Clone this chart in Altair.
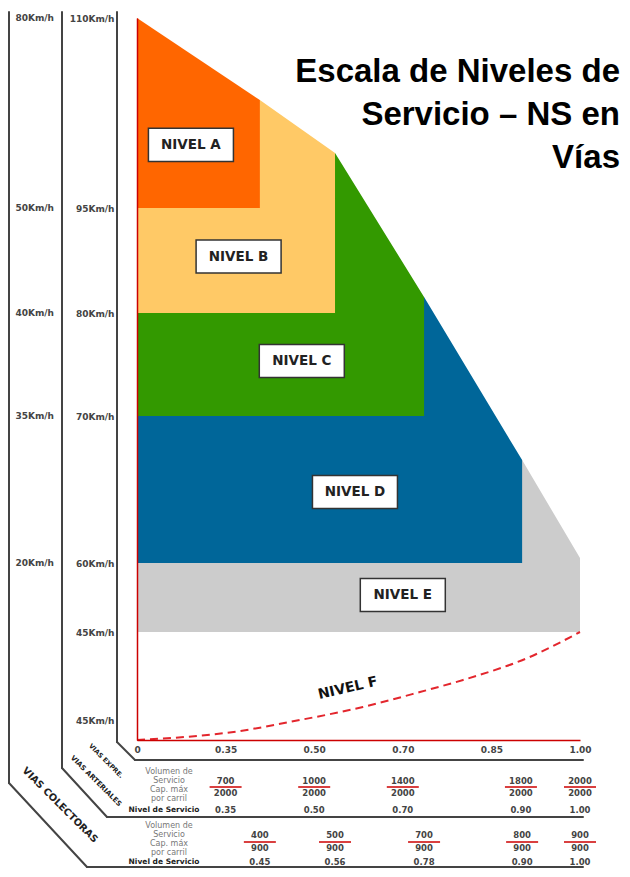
import json
import altair as alt
import pandas as pd

# ---------------- data ----------------
vc_ticks = [0, 0.35, 0.50, 0.70, 0.85, 1.00]
tick_labels = ["0", "0.35", "0.50", "0.70", "0.85", "1.00"]

speed_pos = [0, 1, 2, 3, 4, 5, 6]
speed_expresas = ["110Km/h", "95Km/h", "80Km/h", "70Km/h", "60Km/h", "45Km/h", "45Km/h"]
speed_pos_col = [0, 1, 2, 3, 4]
speed_colectoras = ["80Km/h", "50Km/h", "40Km/h", "35Km/h", "20Km/h"]

levels = ["A", "B", "C", "D", "E"]
level_bottom = [1, 2, 3, 4, 5]
env_x = [0, 0.408, 0.547, 0.736, 0.902, 1.00]
env_y = [0, 0.432, 0.71, 1.848, 3.30, 3.966]
level_colors = ["#FF6600", "#FFC966", "#339900", "#006699", "#CCCCCC"]
label_x = [0.213, 0.372, 0.479, 0.592, 0.70]
label_y = [0.668, 1.462, 2.466, 3.517, 4.464]

f_x = [0, 0.237, 0.35, 0.476, 0.61, 0.729, 0.802, 0.915, 1.0]
f_y = [7, 6.8, 6.65, 6.0, 5.852, 5.682, 5.545, 5.284, 5.0]
f_label = ("NIVEL F", 0.576, 5.64)

art_x = [0.35, 0.50, 0.70, 0.90, 1.00]
art_vol = [700, 1000, 1400, 1800, 2000]
art_cap = [2000, 2000, 2000, 2000, 2000]
art_ns = ["0.35", "0.50", "0.70", "0.90", "1.00"]

col_x = [0.408, 0.547, 0.736, 0.902, 1.00]
col_vol = [400, 500, 700, 800, 900]
col_cap = [900, 900, 900, 900, 900]
col_ns = ["0.45", "0.56", "0.78", "0.90", "1.00"]

title_lines = ["Escala de Niveles de", "Servicio \u2013 NS en", "V\u00edas"]
row_labels = ["Volumen de", "Servicio", "Cap. m\u00e1x", "por carril", "Nivel de Servicio"]
road_labels = ["VIAS EXPRE.", "VIAS ARTERIALES", "VIAS COLECTORAS"]

# ---------------- layout ----------------
W, H = 443, 722
FONT = "DejaVu Sans"
xscale = alt.Scale(domain=vc_ticks, range=[i * W / 5 for i in range(6)], nice=False, zero=False)
yscale = alt.Scale(domain=[0, 1, 2, 3, 4, 5, 6, 7],
                   range=[0, 190, 295, 398, 545, 614, 702, 722], nice=False, zero=False)

xaxis = alt.Axis(values=vc_ticks,
                 labelExpr=f"{json.dumps(tick_labels)}[indexof({json.dumps(vc_ticks)}, datum.value)]",
                 title=None, ticks=False, tickSize=0, grid=False, zindex=1,
                 domainColor="#CC0000", domainWidth=1.5,
                 labelFont=FONT, labelFontWeight="bold", labelFontSize=9, labelColor="#444",
                 labelPadding=5, labelFlush=False, labelOverlap=False)
yaxis = alt.Axis(values=speed_pos,
                 labelExpr=f"{json.dumps(speed_expresas)}[datum.value]",
                 title=None, ticks=False, tickSize=0, grid=False, zindex=1,
                 domainColor="#CC0000", domainWidth=1.5,
                 labelFont=FONT, labelFontWeight="bold", labelFontSize=9, labelColor="#444",
                 labelPadding=23, labelAlign="right", labelBaseline="middle",
                 labelFlush=False, labelOverlap=False)


def X(f="x"):
    return alt.X(f"{f}:Q", scale=xscale, axis=xaxis)


def Y(f="y"):
    return alt.Y(f"{f}:Q", scale=yscale, axis=yaxis)


one = pd.DataFrame({"d": [0]})
layers = []

# level areas (E first, A last); each lower level tucks just under the one above it
EPS, DELTA = 0.003, 0.05
for k in reversed(range(5)):
    if k == 0:
        xs, ys = env_x[:2], env_y[:2]
    else:
        xm = env_x[k]
        top = level_bottom[k - 1] - DELTA
        xs = [0, xm - 2 * EPS, xm - EPS, xm, env_x[k + 1]]
        ys = [top, top, env_y[k], env_y[k], env_y[k + 1]]
    df = pd.DataFrame({"x": xs, "y": ys, "y2": [level_bottom[k]] * len(xs)})
    layers.append(alt.Chart(df).mark_area(color=level_colors[k], opacity=1, interpolate="linear")
                  .encode(x=X(), y=Y(), y2="y2:Q"))

# level F dashed curve
df_f = pd.DataFrame({"x": f_x, "y": f_y})
layers.append(alt.Chart(df_f).mark_line(color="#E3262D", strokeWidth=2, strokeDash=[8, 5],
                                        interpolate="monotone").encode(x=X(), y=Y()))
layers.append(alt.Chart(pd.DataFrame({"x": [f_label[1]], "y": [f_label[2]], "t": [f_label[0]]}))
              .mark_text(font=FONT, fontWeight="bold", fontSize=14, color="#111", angle=347)
              .encode(x=X(), y=Y(), text="t:N"))

# level label boxes
df_lab = pd.DataFrame({"x": label_x, "y": label_y, "t": ["NIVEL " + l for l in levels]})
box_path = "M-1,-0.39L1,-0.39L1,0.39L-1,0.39Z"
layers.append(alt.Chart(df_lab).mark_point(shape=box_path, size=85 ** 2, filled=True, fill="white",
                                           stroke="#333", strokeWidth=1.5, opacity=1)
              .encode(x=X(), y=Y()))
layers.append(alt.Chart(df_lab).mark_text(font=FONT, fontWeight="bold", fontSize=13.5, color="#222")
              .encode(x=X(), y=Y(), text="t:N"))

# outer speed column
df_sc = pd.DataFrame({"y": speed_pos_col, "t": speed_colectoras})
layers.append(alt.Chart(df_sc).mark_text(font=FONT, fontWeight="bold", fontSize=9, color="#444",
                                         align="right", baseline="middle")
              .encode(y=Y(), x=alt.value(-83), text="t:N"))


# frame lines
def seg(x1, y1, x2, y2):
    return alt.Chart(one).mark_rule(color="#444", strokeWidth=2, strokeCap="round").encode(
        x=alt.value(x1), y=alt.value(y1), x2=alt.value(x2), y2=alt.value(y2))


for s in [(-128, -6, -128, 765), (-128, 765, -50, 849), (-50, 849, 446, 849),
          (-75, -6, -75, 750), (-75, 750, -30, 799), (-30, 799, 446, 799),
          (-20, -6, -20, 724), (-20, 724, -2, 742), (-2, 742, 446, 742)]:
    layers.append(seg(*s))


def txt(text, x, y, **kw):
    return alt.Chart(one).mark_text(text=text, **kw).encode(x=alt.value(x), y=alt.value(y))


# road type diagonal labels
for t, x, y, fs in zip(road_labels, [-31, -41, -77], [743, 763, 787], [6.5, 7, 9.8]):
    layers.append(txt(t, x, y, font=FONT, fontWeight="bold", fontSize=fs, color="#222",
                      angle=45, align="center", baseline="middle"))

# title
for t, y in zip(title_lines, [64, 107, 150]):
    layers.append(txt(t, 483, y, font="Liberation Sans", fontWeight="bold", fontSize=33,
                      color="#000", align="right", baseline="alphabetic"))


# tables
def table(xs, vol, cap, ns, y_num, y_red, y_den, y_ns, y_lab):
    out = []
    df = pd.DataFrame({"x": xs, "vol": [str(v) for v in vol], "cap": [str(c) for c in cap], "ns": ns})
    base = alt.Chart(df)
    common = dict(font=FONT, fontWeight="bold", fontSize=8.5, color="#444", baseline="middle")
    out.append(base.mark_text(**common).encode(x=X(), y=alt.value(y_num), text="vol:N"))
    out.append(base.mark_text(**common).encode(x=X(), y=alt.value(y_den), text="cap:N"))
    out.append(base.mark_text(**common).encode(x=X(), y=alt.value(y_ns), text="ns:N"))
    out.append(base.mark_rule(color="#CC0000", strokeWidth=1.5, xOffset=-16, x2Offset=16)
               .encode(x=X(), x2="x:Q", y=alt.value(y_red)))
    for i, (t, yy) in enumerate(zip(row_labels, y_lab)):
        if i < 4:
            out.append(txt(t, 32, yy, font=FONT, fontSize=8, color="#777", baseline="middle"))
        else:
            out.append(txt(t, 27, yy, font=FONT, fontWeight="bold", fontSize=7.5, color="#222",
                           baseline="middle"))
    return out


layers += table(art_x, art_vol, art_cap, art_ns, 763, 769, 775, 792, [754, 763, 772, 781, 792])
layers += table(col_x, col_vol, col_cap, col_ns, 817, 824, 830, 844, [808, 817, 826, 835, 844])

chart = (alt.layer(*layers)
         .properties(width=W, height=H,
                     padding={"left": 129, "top": 10, "right": 42, "bottom": 129},
                     autosize=alt.AutoSizeParams(type="none"),
                     background="white")
         .configure_view(strokeWidth=0))

chart.save("out.html", embed_options={"renderer": "svg", "actions": False})
